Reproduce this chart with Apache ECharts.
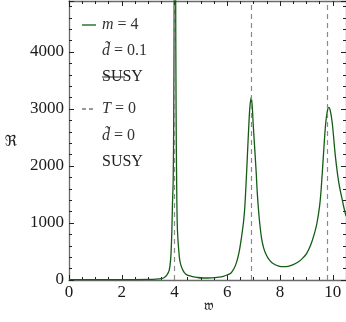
<!DOCTYPE html>
<html>
<head>
<meta charset="utf-8">
<script src="https://cdn.jsdelivr.net/npm/echarts@6/dist/echarts.min.js"></script>
<style>
  html, body { margin: 0; padding: 0; background: #fff; }
  #chart { width: 346px; height: 322px; }
</style>
</head>
<body>
<div id="chart"></div>
<script>
// 曲线数据 (w, R) 从图上读出
const wVals = [0, 1, 2, 3, 3.3, 3.5, 3.6, 3.7, 3.8, 3.86, 3.9, 3.92, 3.95, 3.97, 3.99, 4.015, 4.04, 4.06, 4.08, 4.11,
  4.18, 4.24, 4.33, 4.43, 4.55, 4.68, 4.85, 5.05, 5.4, 5.68, 5.85, 5.99, 6.13, 6.26, 6.35, 6.44, 6.52, 6.61, 6.66,
  6.70, 6.76, 6.82, 6.86, 6.91, 6.95, 6.98, 7.02, 7.06, 7.10, 7.13, 7.18, 7.23, 7.30, 7.38, 7.48, 7.60, 7.75, 7.95,
  8.12, 8.3, 8.5, 8.7, 8.85, 9.0, 9.15, 9.3, 9.4, 9.5, 9.56, 9.64, 9.73, 9.8, 9.85, 9.9, 9.98, 10.1, 10.23, 10.4, 10.5];
const rVals = [5, 5, 6, 10, 15, 25, 40, 80, 175, 410, 880, 1300, 1750, 2900, 5500, 14000, 5500, 2900, 1750, 880,
  410, 260, 160, 100, 75, 60, 45, 35, 38, 50, 65, 88, 117, 205, 310, 470, 690, 995, 1250,
  1580, 2160, 2750, 3050, 3205, 3020, 2750, 2450, 2160, 1850, 1580, 1250, 995, 730, 560, 440, 350, 285, 245,
  233, 240, 270, 320, 380, 460, 600, 810, 1000, 1300, 1600, 2160, 2750, 2980, 3030, 2980, 2750, 2160, 1700, 1315, 1120];
// T=0 虚线位置
const dashX = [4.0, 6.92, 9.79];

const green = '#145c14';
const axisGray = '#6a6a6a';
const serif = '"Liberation Serif", "DejaVu Serif", serif';

const chart = echarts.init(document.getElementById('chart'));

const frameX = (pos, labels) => ({
  type: 'value', position: pos, min: 0, max: 10.5, interval: 2,
  axisLine: { show: true, onZero: false, lineStyle: { color: axisGray, width: 1.3 } },
  axisTick: { show: true, inside: true, length: 5, lineStyle: { color: '#222' } },
  minorTick: { show: true, splitNumber: 4, length: 3, lineStyle: { color: '#222' } },
  axisLabel: { show: labels, margin: 4, color: '#1a1a1a', fontSize: 17, fontFamily: serif, showMaxLabel: false },
  splitLine: { show: false }
});
const frameY = (pos, labels) => ({
  type: 'value', position: pos, min: 0, max: 4895, interval: 1000,
  axisLine: { show: true, onZero: false, lineStyle: { color: axisGray, width: 1.3 } },
  axisTick: { show: true, inside: true, length: 5, lineStyle: { color: '#222' } },
  minorTick: { show: true, splitNumber: 5, length: 3, lineStyle: { color: '#222' } },
  axisLabel: { show: labels, margin: 5, color: '#1a1a1a', fontSize: 17, fontFamily: serif, showMaxLabel: false,
    formatter: v => String(v) },
  splitLine: { show: false }
});

const italicRich = { i: { fontStyle: 'italic', fontSize: 16, fontFamily: serif, fill: '#333' } };

chart.setOption({
  animation: false,
  grid: { left: 69, top: 1, width: 279, height: 279 },
  xAxis: [frameX('bottom', true), frameX('top', false)],
  yAxis: [frameY('left', true), frameY('right', false)],
  series: [
    {
      name: 'm=4',
      type: 'line',
      data: wVals.map((w, i) => [w, rVals[i]]),
      showSymbol: false,
      smooth: 0.3,
      clip: true,
      lineStyle: { color: green, width: 1.3 },
      z: 3,
      markLine: {
        silent: true,
        symbol: 'none',
        label: { show: false },
        lineStyle: { color: '#8a8a8a', type: [5, 4], width: 1.2 },
        data: dashX.map(v => ({ xAxis: v }))
      }
    }
  ],
  graphic: [
    // 图例
    { type: 'line', shape: { x1: 82, y1: 25, x2: 96, y2: 25 }, style: { stroke: green, lineWidth: 1.3 } },
    { type: 'text', x: 102, y: 25, style: { text: '{i|m} = 4', verticalAlign: 'middle', fill: '#333', font: '16px ' + serif, rich: italicRich } },
    { type: 'text', x: 102, y: 51, style: { text: '{i|d\u0303} = 0.1', verticalAlign: 'middle', fill: '#333', font: '16px ' + serif, rich: italicRich } },
    { type: 'text', x: 102, y: 77, style: { text: 'SUSY', verticalAlign: 'middle', fill: '#222', font: '16px ' + serif } },
    { type: 'line', shape: { x1: 102, y1: 77, x2: 125, y2: 77 }, style: { stroke: '#222', lineWidth: 1 } },
    { type: 'line', shape: { x1: 82, y1: 109, x2: 96, y2: 109 }, style: { stroke: '#777', lineWidth: 1.3, lineDash: [4, 3] } },
    { type: 'text', x: 102, y: 109, style: { text: '{i|T} = 0', verticalAlign: 'middle', fill: '#333', font: '16px ' + serif, rich: italicRich } },
    { type: 'text', x: 102, y: 136, style: { text: '{i|d\u0303} = 0', verticalAlign: 'middle', fill: '#333', font: '16px ' + serif, rich: italicRich } },
    { type: 'text', x: 102, y: 162, style: { text: 'SUSY', verticalAlign: 'middle', fill: '#222', font: '16px ' + serif } },
    // 轴名
    { type: 'text', x: 11, y: 142, style: { text: '\u211C', align: 'center', verticalAlign: 'middle', fill: '#222', font: '15px "DejaVu Serif", "DejaVu Sans", serif' } },
    { type: 'text', x: 209, y: 306, style: { text: '\uD835\uDD34', align: 'center', verticalAlign: 'middle', fill: '#222', font: '14px "DejaVu Serif", "DejaVu Sans", serif' } }
  ]
});
</script>
</body>
</html>
